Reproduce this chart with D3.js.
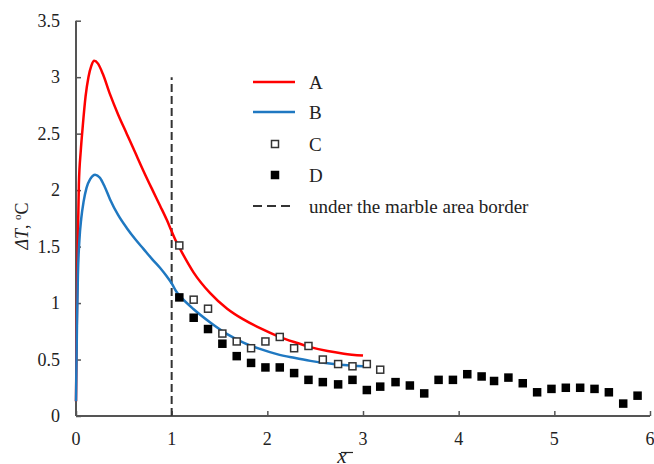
<!DOCTYPE html>
<html>
<head>
<meta charset="utf-8">
<script src="https://cdn.jsdelivr.net/npm/d3@7"></script>
<style>
  html, body { margin: 0; padding: 0; background: #fff; }
  svg { display: block; }
  svg text { font-family: "Liberation Serif", "Times New Roman", serif; }
</style>
</head>
<body>
<svg id="chart" width="654" height="464"></svg>
<script>
// Model curves (temperature excess vs. dimensionless distance)
const curveAx = [0, 0.01, 0.02, 0.03, 0.05, 0.07, 0.1, 0.13, 0.16, 0.19, 0.23, 0.28, 0.355, 0.44, 0.53, 0.62, 0.705, 0.8, 0.88, 0.95, 1.0, 1.05, 1.1, 1.23, 1.4, 1.58, 1.75, 1.93, 2.1, 2.28, 2.45, 2.63, 2.8, 3.0];
const curveAy = [0.13, 0.95, 1.6, 2.05, 2.35, 2.56, 2.83, 3.0, 3.1, 3.145, 3.12, 3.03, 2.85, 2.67, 2.5, 2.33, 2.17, 2.0, 1.86, 1.735, 1.635, 1.54, 1.46, 1.27, 1.09, 0.95, 0.855, 0.775, 0.71, 0.655, 0.61, 0.575, 0.552, 0.535];
const curveBx = [0, 0.01, 0.02, 0.035, 0.055, 0.08, 0.11, 0.15, 0.2, 0.25, 0.3, 0.355, 0.44, 0.53, 0.62, 0.705, 0.8, 0.88, 0.95, 1.0, 1.05, 1.1, 1.23, 1.4, 1.58, 1.75, 1.93, 2.1, 2.28, 2.45, 2.63, 2.8, 3.0];
const curveBy = [0.13, 0.8, 1.25, 1.55, 1.75, 1.9, 2.02, 2.1, 2.137, 2.11, 2.03, 1.92, 1.78, 1.665, 1.565, 1.48, 1.385, 1.31, 1.235, 1.175, 1.1, 1.05, 0.945, 0.83, 0.725, 0.65, 0.592, 0.548, 0.515, 0.488, 0.467, 0.452, 0.44];

// Measurements C (open squares)
const seriesCx = [1.08, 1.23, 1.38, 1.53, 1.68, 1.83, 1.98, 2.13, 2.28, 2.43, 2.58, 2.74, 2.89, 3.04, 3.18];
const seriesCy = [1.51, 1.03, 0.95, 0.73, 0.66, 0.60, 0.66, 0.70, 0.60, 0.62, 0.50, 0.46, 0.44, 0.46, 0.41];

// Measurements D (filled squares)
const seriesDx = [1.08, 1.23, 1.38, 1.53, 1.68, 1.83, 1.98, 2.13, 2.28, 2.43, 2.58, 2.74, 2.89, 3.04, 3.18, 3.34, 3.49, 3.64, 3.79, 3.94, 4.09, 4.24, 4.37, 4.52, 4.67, 4.82, 4.97, 5.12, 5.27, 5.42, 5.57, 5.72, 5.87];
const seriesDy = [1.05, 0.87, 0.77, 0.64, 0.53, 0.47, 0.43, 0.43, 0.38, 0.32, 0.30, 0.28, 0.32, 0.23, 0.26, 0.30, 0.27, 0.20, 0.32, 0.32, 0.37, 0.35, 0.31, 0.34, 0.29, 0.21, 0.24, 0.25, 0.25, 0.24, 0.21, 0.11, 0.18];

// Border of the area under the marble slab
const borderX = 1;
const borderTop = 3;

const xTicks = [0, 1, 2, 3, 4, 5, 6];
const yTicks = [0, 0.5, 1, 1.5, 2, 2.5, 3, 3.5];
const legendLabels = ["A", "B", "C", "D", "under the marble area border"];

const colorA = "#ff0000";
const colorB = "#1f78c1";
const axisColor = "#555555";
const textColor = "#222222";
const serif = "Liberation Serif, Times New Roman, serif";

const svg = d3.select("#chart").attr("font-family", serif);
const x = d3.scaleLinear().domain([0, 6]).range([76, 650]);
const y = d3.scaleLinear().domain([0, 3.5]).range([416, 20.7]);

// Axes with inward ticks
const xAxis = d3.axisTop(x).tickValues(xTicks).tickSize(5).tickFormat("");
const yAxis = d3.axisRight(y).tickValues(yTicks).tickSize(5).tickFormat("");

const gx = svg.append("g").attr("transform", `translate(0,${y(0)})`).call(xAxis);
const gy = svg.append("g").attr("transform", `translate(${x(0)},0)`).call(yAxis);
[gx, gy].forEach(g => {
  g.select(".domain").attr("stroke", axisColor).attr("stroke-width", 2);
  g.selectAll(".tick line").attr("stroke", axisColor).attr("stroke-width", 1.5);
});
gx.select(".domain").attr("d", `M${x(0)},0H${x(6)}`);
gy.select(".domain").attr("d", `M0,${y(0)}V${y(3.5)}`);

// Tick labels
svg.append("g").selectAll("text").data(xTicks).join("text")
  .attr("font-family", serif)
  .attr("x", d => x(d)).attr("y", 445)
  .attr("text-anchor", "middle").attr("font-size", 18).attr("fill", textColor)
  .text(d => d);
svg.append("g").selectAll("text").data(yTicks).join("text")
  .attr("font-family", serif)
  .attr("x", 60).attr("y", d => y(d)).attr("dy", "0.35em")
  .attr("text-anchor", "end").attr("font-size", 18).attr("fill", textColor)
  .text(d => d);

// Axis titles
const yt = svg.append("text")
  .attr("font-family", serif)
  .attr("transform", "translate(28,226) rotate(-90)")
  .attr("text-anchor", "middle").attr("font-size", 18).attr("fill", textColor);
yt.append("tspan").attr("font-style", "italic").text("ΔT");
yt.append("tspan").text(", ");
yt.append("tspan").attr("font-size", 11).attr("dy", -7).text("o");
yt.append("tspan").attr("dy", 7).text("C");

const xt = svg.append("g").attr("transform", "translate(342,463)");
xt.append("text")
  .attr("font-family", serif)
  .attr("text-anchor", "middle").attr("font-size", 21).attr("font-style", "italic")
  .attr("fill", textColor).text("x");
xt.append("line").attr("x1", -1).attr("x2", 11).attr("y1", -10.5).attr("y2", -10.5)
  .attr("stroke", textColor).attr("stroke-width", 1.2);

// Border line
svg.append("line")
  .attr("x1", x(borderX)).attr("x2", x(borderX))
  .attr("y1", y(0)).attr("y2", y(borderTop))
  .attr("stroke", "#333").attr("stroke-width", 2).attr("stroke-dasharray", "8,4");

// Model curves
const line = d3.line().x(d => x(d[0])).y(d => y(d[1])).curve(d3.curveMonotoneX);
svg.append("path").datum(d3.zip(curveAx, curveAy))
  .attr("d", line).attr("fill", "none").attr("stroke", colorA).attr("stroke-width", 2.5);
svg.append("path").datum(d3.zip(curveBx, curveBy))
  .attr("d", line).attr("fill", "none").attr("stroke", colorB).attr("stroke-width", 2.5);

// Measurements
const s = 8.5;
svg.append("g").selectAll("rect").data(d3.zip(seriesDx, seriesDy)).join("rect")
  .attr("x", d => x(d[0]) - s / 2).attr("y", d => y(d[1]) - s / 2)
  .attr("width", s).attr("height", s).attr("fill", "#000");
svg.append("g").selectAll("rect").data(d3.zip(seriesCx, seriesCy)).join("rect")
  .attr("x", d => x(d[0]) - s / 2 + 0.75).attr("y", d => y(d[1]) - s / 2 + 0.75)
  .attr("width", s - 1.5).attr("height", s - 1.5)
  .attr("fill", "#fff").attr("stroke", "#333").attr("stroke-width", 1.5);

// Legend
const lg = svg.append("g");
const ly = [82, 112, 144, 175, 206];
const lx0 = 253, lx1 = 295, ltx = 309;
lg.append("line").attr("x1", lx0).attr("x2", lx1).attr("y1", ly[0]).attr("y2", ly[0])
  .attr("stroke", colorA).attr("stroke-width", 2.5);
lg.append("line").attr("x1", lx0).attr("x2", lx1).attr("y1", ly[1]).attr("y2", ly[1])
  .attr("stroke", colorB).attr("stroke-width", 2.5);
lg.append("rect").attr("x", 275 - s / 2 + 0.75).attr("y", ly[2] - s / 2 + 0.75)
  .attr("width", s - 1.5).attr("height", s - 1.5)
  .attr("fill", "#fff").attr("stroke", "#333").attr("stroke-width", 1.5);
lg.append("rect").attr("x", 275 - s / 2).attr("y", ly[3] - s / 2)
  .attr("width", s).attr("height", s).attr("fill", "#000");
lg.append("line").attr("x1", lx0).attr("x2", lx1).attr("y1", ly[4]).attr("y2", ly[4])
  .attr("stroke", "#333").attr("stroke-width", 2).attr("stroke-dasharray", "9,5");
lg.selectAll("text.lbl").data(legendLabels).join("text")
  .attr("class", "lbl").attr("font-family", serif)
  .attr("x", ltx).attr("y", (d, i) => ly[i]).attr("dy", "0.35em")
  .attr("font-size", 19).attr("fill", textColor)
  .text(d => d);
</script>
</body>
</html>
